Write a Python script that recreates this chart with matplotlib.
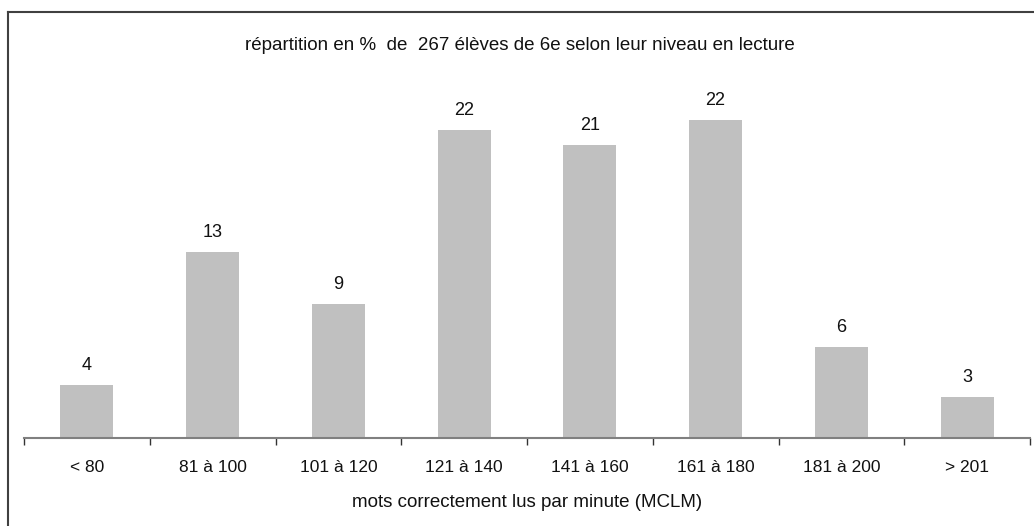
import numpy as np
import matplotlib.pyplot as plt
from matplotlib.lines import Line2D

plt.rcParams['font.family'] = ['Liberation Sans', 'DejaVu Sans']

categories = ['< 80', '81 à 100', '101 à 120', '121 à 140',
              '141 à 160', '161 à 180', '181 à 200', '> 201']
# pourcentages (hauteurs des barres) et valeurs affichées
percents = [3.7, 13.1, 9.4, 21.7, 20.6, 22.4, 6.4, 2.9]
labels = ['4', '13', '9', '22', '21', '22', '6', '3']

fig = plt.figure(figsize=(10.34, 5.26), dpi=100)
ax = fig.add_axes([24 / 1034, 1 - 438 / 526, 1006 / 1034, 378 / 526])

x = np.arange(len(categories))
bars = ax.bar(x, percents, width=0.42, color='#c0c0c0', zorder=2)
for b, lab in zip(bars, labels):
    ax.annotate(lab, (b.get_x() + b.get_width() / 2, b.get_height()),
                xytext=(0, 8), textcoords='offset points',
                ha='center', va='bottom', fontsize=13, color='#111111')

ax.set_xlim(-0.5, len(categories) - 0.5)
ax.set_ylim(0, 26.6)
ax.set_xticks(x)
ax.set_xticklabels(categories, fontsize=12.5, color='#111111')
ax.set_xticks(np.arange(-0.5, len(categories), 1), minor=True)
ax.tick_params(axis='x', which='major', length=0, pad=15.5)
ax.tick_params(axis='x', which='minor', length=5, width=1, color='#333333', direction='out')
ax.set_yticks([])
for s in ['top', 'right', 'left']:
    ax.spines[s].set_visible(False)
ax.spines['bottom'].set_color('#808080')
ax.spines['bottom'].set_linewidth(1.5)
ax.spines['bottom'].set_zorder(3)

ax.set_xlabel('mots correctement lus par minute (MCLM)', fontsize=13.5,
              color='#111111', labelpad=14)
fig.text(0.503, 1 - 45 / 526, 'répartition en %  de  267 élèves de 6e selon leur niveau en lecture',
         ha='center', va='center', fontsize=13.5, color='#111111')

# cadre de la zone graphique
fig.add_artist(Line2D([8 / 1034, 8 / 1034], [0, 1 - 12 / 526],
                      transform=fig.transFigure, color='#404040', lw=1.5))
fig.add_artist(Line2D([8 / 1034, 1], [1 - 12 / 526, 1 - 12 / 526],
                      transform=fig.transFigure, color='#404040', lw=1.5))

fig.savefig('out.png', dpi=100)
